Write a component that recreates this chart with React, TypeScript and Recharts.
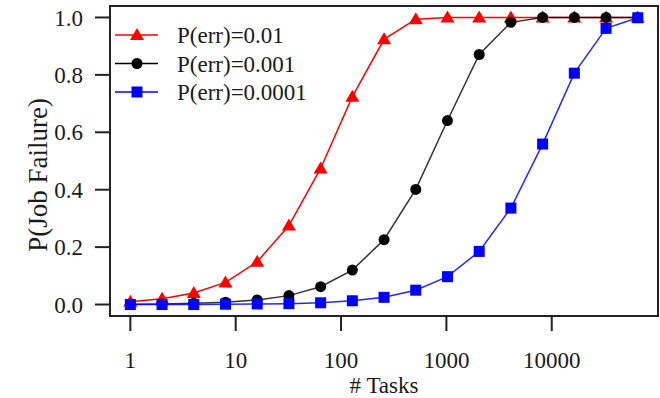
import React from 'react';
import { LineChart, Line, XAxis, YAxis, ReferenceArea } from 'recharts';

const tasks = [1, 2, 4, 8, 16, 32, 64, 128, 256, 512, 1024, 2048, 4096, 8192, 16384, 32768, 65536];
const pErr001 = [0.01, 0.02, 0.04, 0.077, 0.149, 0.275, 0.474, 0.724, 0.924, 0.994, 1, 1, 1, 1, 1, 1, 1];
const pErr0001 = [0.001, 0.002, 0.004, 0.008, 0.016, 0.031, 0.062, 0.12, 0.226, 0.401, 0.641, 0.871, 0.983, 1, 1, 1, 1];
const pErr00001 = [0, 0, 0, 0.001, 0.002, 0.003, 0.006, 0.013, 0.025, 0.05, 0.097, 0.185, 0.336, 0.559, 0.806, 0.962, 0.999];
const xTicks = [1, 10, 100, 1000, 10000];
const yTicks = [0, 0.2, 0.4, 0.6, 0.8, 1.0];
const seriesNames = ['P(err)=0.01', 'P(err)=0.001', 'P(err)=0.0001'];

const data = tasks.map((n, i) => ({ n, a: pErr001[i], b: pErr0001[i], c: pErr00001[i] }));

const FONT = "'Liberation Serif', 'Times New Roman', 'DejaVu Serif', serif";
const TEXT = '#1a1a1a';
const RED = '#ff0000';
const BLACK = '#000000';
const BLUE = '#0000ff';

const xDomain: [number, number] = [0.641, 102000];
const yDomain: [number, number] = [-0.04, 1.04];

const Triangle = (cx: number, cy: number, color: string, key?: any) => (
  <path key={key} d={`M${cx},${cy - 7} L${cx + 7},${cy + 5} L${cx - 7},${cy + 5} Z`} fill={color} />
);
const Circle = (cx: number, cy: number, color: string, key?: any) => (
  <circle key={key} cx={cx} cy={cy} r={5.5} fill={color} />
);
const Square = (cx: number, cy: number, color: string, key?: any) => (
  <rect key={key} x={cx - 5.5} y={cy - 5.5} width={11} height={11} fill={color} />
);

const legendItems = [
  { name: seriesNames[0], color: RED, shape: Triangle },
  { name: seriesNames[1], color: BLACK, shape: Circle },
  { name: seriesNames[2], color: BLUE, shape: Square },
];

export default function App() {
  return (
    <div style={{ position: 'absolute', left: 0, top: 0, width: 660, height: 398, background: '#fff' }}>
      <LineChart
        width={660}
        height={398}
        data={data}
        margin={{ top: 6, right: 2, left: 30, bottom: 22 }}
      >
        <ReferenceArea
          x1={xDomain[0]}
          x2={xDomain[1]}
          y1={yDomain[0]}
          y2={yDomain[1]}
          fill="none"
          fillOpacity={0}
          stroke="#222"
          strokeWidth={2}
          ifOverflow="visible"
        />
        <XAxis
          dataKey="n"
          type="number"
          scale="log"
          domain={xDomain}
          allowDataOverflow
          ticks={xTicks}
          tickFormatter={(v: number) => String(v)}
          height={60}
          axisLine={false}
          tickSize={15}
          tickMargin={21}
          tickLine={{ stroke: '#222', strokeWidth: 2 }}
          tick={{ fill: TEXT, fontSize: 23, fontFamily: FONT }}
          interval={0}
          label={{
            content: (props: any) => {
              const vb = props.viewBox || {};
              return (
                <text
                  x={vb.x + vb.width / 2}
                  y={vb.y + 77}
                  textAnchor="middle"
                  fill={TEXT}
                  fontSize={23}
                  fontFamily={FONT}
                >
                  # Tasks
                </text>
              );
            },
          }}
        />
        <YAxis
          type="number"
          domain={yDomain}
          allowDataOverflow
          ticks={yTicks}
          tickFormatter={(v: number) => v.toFixed(1)}
          width={80}
          axisLine={false}
          tickSize={15}
          tickMargin={12}
          tickLine={{ stroke: '#222', strokeWidth: 2 }}
          tick={{ fill: TEXT, fontSize: 23, fontFamily: FONT }}
          interval={0}
          label={{
            content: (props: any) => {
              const vb = props.viewBox || {};
              const x = vb.x + 17;
              const y = vb.y + vb.height / 2 + 14;
              return (
                <text
                  x={x}
                  y={y}
                  transform={`rotate(-90, ${x}, ${y})`}
                  textAnchor="middle"
                  fill={TEXT}
                  fontSize={27}
                  fontFamily={FONT}
                >
                  P(Job Failure)
                </text>
              );
            },
          }}
        />
        <Line
          dataKey="a"
          name={seriesNames[0]}
          stroke={RED}
          strokeWidth={1.5}
          isAnimationActive={false}
          dot={(p: any) => Triangle(p.cx, p.cy, RED, p.key ?? `a${p.index}`)}
          activeDot={false}
        />
        <Line
          dataKey="b"
          name={seriesNames[1]}
          stroke={BLACK}
          strokeOpacity={0.8}
          strokeWidth={1.5}
          isAnimationActive={false}
          dot={(p: any) => Circle(p.cx, p.cy, BLACK, p.key ?? `b${p.index}`)}
          activeDot={false}
        />
        <Line
          dataKey="c"
          name={seriesNames[2]}
          stroke={BLUE}
          strokeOpacity={0.85}
          strokeWidth={1.5}
          isAnimationActive={false}
          dot={(p: any) => Square(p.cx, p.cy, BLUE, p.key ?? `c${p.index}`)}
          activeDot={false}
        />
      </LineChart>
      <svg
        style={{ position: 'absolute', left: 112, top: 20 }}
        width={240}
        height={90}
      >
        {legendItems.map((it, i) => {
          const cy = 15 + i * 28.5;
          return (
            <g key={it.name}>
              <line x1={3} x2={46} y1={cy} y2={cy} stroke={it.color} strokeWidth={1.5} />
              {it.shape(25, cy, it.color)}
              <text x={65} y={cy + 8} fill={TEXT} fontSize={23} fontFamily={FONT}>
                {it.name}
              </text>
            </g>
          );
        })}
      </svg>
    </div>
  );
}
